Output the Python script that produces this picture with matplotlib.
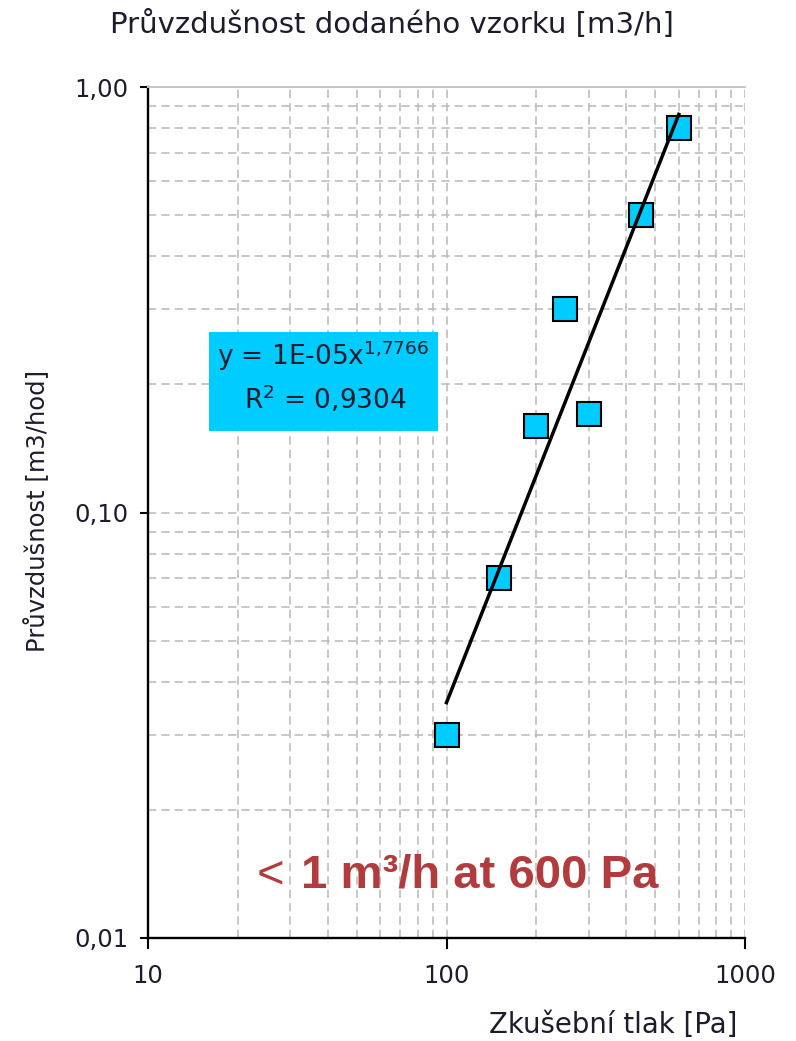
import numpy as np
import matplotlib
matplotlib.use('Agg')
import matplotlib.pyplot as plt
from matplotlib.ticker import FixedLocator, LogLocator, NullFormatter
from matplotlib.patches import Rectangle

# ---- data ----
pressure = [100, 150, 200, 250, 300, 450, 600]          # Pa
flow = [0.03, 0.07, 0.16, 0.30, 0.17, 0.50, 0.80]       # m3/h
fit_coef = 1e-5
fit_exp = 1.7766
fit_r2 = 0.9304
fit_range = [100, 600]
x_ticks = [10, 100, 1000]
x_tick_labels = ['10', '100', '1000']
y_ticks = [0.01, 0.1, 1.0]
y_tick_labels = ['0,01', '0,10', '1,00']

title = 'Průvzdušnost dodaného vzorku [m3/h]'
xlabel = 'Zkušební tlak [Pa]'
ylabel = 'Průvzdušnost [m3/hod]'

plt.rcParams['font.family'] = ['DejaVu Sans']
plt.rcParams['mathtext.fontset'] = 'dejavusans'

W, H = 796, 1041
fig = plt.figure(figsize=(W / 100, H / 100), dpi=100)


def fx(px):
    return px / W


def fy(py):
    return 1 - py / H


ax = fig.add_axes([fx(148), fy(938), fx(745) - fx(148), fy(87) - fy(938)])
ax.set_xscale('log')
ax.set_yscale('log')
ax.set_xlim(10, 1000)
ax.set_ylim(0.01, 1)

ax.xaxis.set_major_locator(FixedLocator(x_ticks))
ax.xaxis.set_minor_locator(LogLocator(base=10, subs=np.arange(2, 10)))
ax.xaxis.set_minor_formatter(NullFormatter())
ax.set_xticklabels(x_tick_labels)
ax.yaxis.set_major_locator(FixedLocator(y_ticks))
ax.yaxis.set_minor_locator(LogLocator(base=10, subs=np.arange(2, 10)))
ax.yaxis.set_minor_formatter(NullFormatter())
ax.set_yticklabels(y_tick_labels)

ax.grid(True, which='both', color='#BEBEBE', lw=1.2, ls=(0, (5, 3)), zorder=0)
ax.set_axisbelow(True)

txtcol = '#1c1c2c'
ax.tick_params(axis='both', which='minor', length=0)
ax.tick_params(axis='x', which='major', length=8, width=1.5, direction='out',
               pad=11, labelsize=17.5, labelcolor=txtcol)
ax.tick_params(axis='y', which='major', length=6, width=1.5, direction='out',
               pad=8, labelsize=17.5, labelcolor=txtcol)

for s in ['left', 'bottom']:
    ax.spines[s].set_linewidth(1.7)
    ax.spines[s].set_color('black')
ax.spines['top'].set_color('#C4C4C4')
ax.spines['top'].set_linewidth(1.4)
ax.spines['right'].set_visible(False)

# markers
ax.plot(pressure, flow, ls='none', marker='s', markersize=17,
        markerfacecolor='#00CCFF', markeredgecolor='black', markeredgewidth=1.5,
        zorder=3, clip_on=False)

# power trendline
xt = np.geomspace(fit_range[0], fit_range[1], 60)
ax.plot(xt, fit_coef * xt ** fit_exp, color='black', lw=2.5, zorder=4)

# equation box
fig.patches.append(Rectangle((fx(209), fy(431)), fx(438) - fx(209), fy(332) - fy(431),
                             transform=fig.transFigure, facecolor='#00CCFF',
                             edgecolor='none', zorder=5))
fig.text(fx(323), fy(365), r'y = 1E-05x$^{1{,}7766}$', ha='center', va='baseline',
         fontsize=19, color=txtcol, zorder=6)
fig.text(fx(325), fy(409), r'R$^{2}$ = 0,9304', ha='center', va='baseline',
         fontsize=19, color=txtcol, zorder=6)

# titles / labels
fig.text(fx(392), fy(33), title, ha='center', va='baseline', fontsize=21, color=txtcol)
fig.text(fx(737), fy(1033), xlabel, ha='right', va='baseline', fontsize=19.8, color=txtcol)
fig.text(fx(37), fy(511), ylabel, ha='center', va='center', rotation=90,
         fontsize=17.5, color=txtcol)

# red note
red = '#B23B3D'
fig.text(fx(257), fy(888), '<', ha='left', va='baseline', fontsize=34,
         family=['Liberation Sans', 'DejaVu Sans'], color=red)
fig.text(fx(301), fy(888), '1 m³/h at 600 Pa', ha='left', va='baseline', fontsize=34,
         fontweight='bold', family=['Liberation Sans', 'DejaVu Sans'], color=red)

fig.savefig('out.png', dpi=100)
